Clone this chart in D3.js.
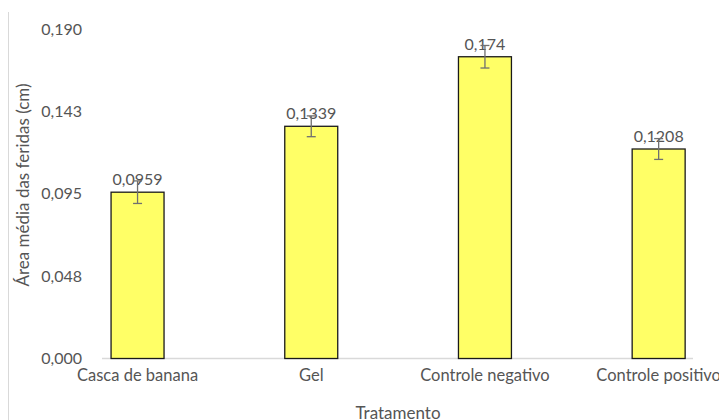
<!DOCTYPE html>
<html>
<head>
<meta charset="utf-8">
<script src="https://cdn.jsdelivr.net/npm/d3@7"></script>
<style>
  html, body { margin: 0; padding: 0; background: #fff; }
  svg { display: block; }
  text { font-family: Lato, "Open Sans", sans-serif; fill: #555; }
</style>
</head>
<body>
<script>
// Wound area by treatment
const categories = ["Casca de banana", "Gel", "Controle negativo", "Controle positivo"];
const means = [0.0959, 0.1339, 0.174, 0.1208];
const meanLabels = ["0,0959", "0,1339", "0,174", "0,1208"];
const errors = [0.0065, 0.006, 0.0065, 0.006];
const yTicks = [0, 0.0475, 0.095, 0.1425, 0.19];
const yTickLabels = ["0,000", "0,048", "0,095", "0,143", "0,190"];

const width = 719, height = 420;
const svg = d3.select("body").append("svg")
  .attr("width", width).attr("height", height);

const x = d3.scaleBand()
  .domain(categories)
  .range([50.7, 745.5])
  .paddingInner(0.695)
  .paddingOuter(0.3475);

const y = d3.scaleLinear()
  .domain([0, 0.19])
  .range([358.5, 29]);

// chart frame edge on the left
svg.append("line")
  .attr("x1", 8.5).attr("x2", 8.5)
  .attr("y1", 12).attr("y2", height)
  .attr("stroke", "#d9d9d9").attr("stroke-width", 1);

// y axis labels
const yAxis = svg.append("g")
  .attr("transform", "translate(82,0)")
  .call(d3.axisLeft(y).tickValues(yTicks).tickSize(0).tickPadding(0)
    .tickFormat((d, i) => yTickLabels[i]));
yAxis.select(".domain").remove();
yAxis.selectAll("text")
  .style("font-family", "Lato, sans-serif")
  .style("font-size", "16px")
  .attr("fill", "#555");

// category axis
const xAxis = svg.append("g")
  .attr("transform", `translate(0,${y(0)})`)
  .call(d3.axisBottom(x).tickSize(0).tickPadding(11));
xAxis.select(".domain").remove();
xAxis.selectAll("text")
  .style("font-family", "Lato, sans-serif")
  .style("font-size", "16.5px")
  .attr("fill", "#555");

// baseline
svg.append("line")
  .attr("x1", 102).attr("x2", 693)
  .attr("y1", y(0)).attr("y2", y(0))
  .attr("stroke", "#d9d9d9").attr("stroke-width", 1.5);

// bars
svg.append("g").selectAll("rect")
  .data(categories)
  .join("rect")
  .attr("x", d => x(d))
  .attr("width", x.bandwidth())
  .attr("y", (d, i) => y(means[i]))
  .attr("height", (d, i) => y(0) - y(means[i]))
  .attr("fill", "#ffff66")
  .attr("stroke", "#1a1a1a")
  .attr("stroke-width", 1.3);

// value labels
svg.append("g").selectAll("text")
  .data(categories)
  .join("text")
  .attr("x", d => x(d) + x.bandwidth() / 2)
  .attr("y", (d, i) => y(means[i]) - 7)
  .attr("text-anchor", "middle")
  .style("font-size", "16px")
  .text((d, i) => meanLabels[i]);

// error bars
const capHalf = 4.5;
const eb = svg.append("g").attr("stroke", "#707070").attr("stroke-width", 1.3);
categories.forEach((c, i) => {
  const cx = x(c) + x.bandwidth() / 2;
  const top = y(means[i] + errors[i]);
  const bot = y(means[i] - errors[i]);
  eb.append("line").attr("x1", cx).attr("x2", cx).attr("y1", top).attr("y2", bot);
  eb.append("line").attr("x1", cx - capHalf).attr("x2", cx + capHalf).attr("y1", top).attr("y2", top);
  eb.append("line").attr("x1", cx - capHalf).attr("x2", cx + capHalf).attr("y1", bot).attr("y2", bot);
});

// axis titles
svg.append("text")
  .attr("transform", "translate(29,185) rotate(-90)")
  .attr("text-anchor", "middle")
  .style("font-size", "17px")
  .text("Área média das feridas (cm)");

svg.append("text")
  .attr("x", 398)
  .attr("y", 419)
  .attr("text-anchor", "middle")
  .style("font-size", "17px")
  .text("Tratamento");
</script>
</body>
</html>
